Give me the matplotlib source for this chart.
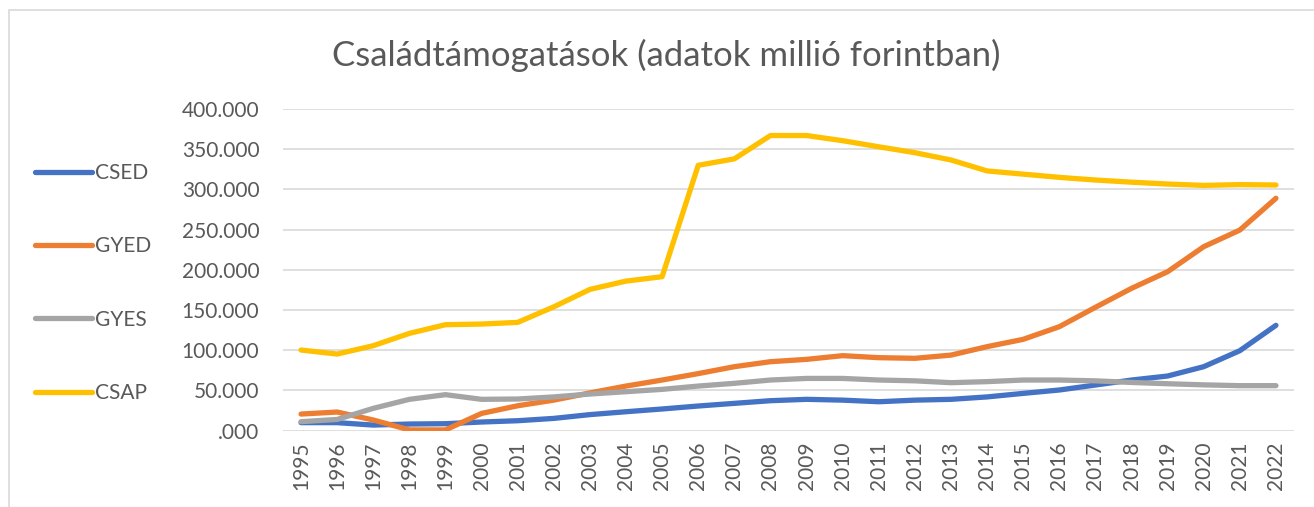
import matplotlib
matplotlib.use("Agg")
import matplotlib.pyplot as plt
from matplotlib.ticker import FuncFormatter, FixedLocator
from matplotlib.patches import Rectangle

years = list(range(1995, 2023))
csed = [10, 10, 7, 8.3, 8.7, 10.8, 12.4, 15.3, 20, 23.6, 27, 30.7, 34, 37.3,
        39, 38, 36, 38, 39, 42, 46.4, 50.6, 56.8, 63, 68, 79.6, 99.5, 131]
gyed = [20.7, 23.2, 13.3, 1, 1, 21.5, 31, 38, 47, 55.5, 63, 71, 79.6, 85.8,
        88.7, 93.3, 90.8, 90, 94, 104.5, 113.6, 129.3, 153.4, 177, 197.7, 228.8, 249.5, 289]
gyes = [11.2, 14, 27.8, 39, 44.8, 39, 39.4, 42, 45.6, 48.5, 51.4, 55.5, 58.9, 63,
        65, 65, 63, 62, 59.7, 61, 63, 63, 62, 60, 58.4, 57, 56, 56]
csap = [100.3, 95.3, 105.7, 121, 131.8, 132.6, 134.7, 154, 175.7, 186, 191.5, 330, 338, 367,
        367, 360.6, 353, 345.7, 336.6, 323, 319, 315, 311.7, 309, 306.7, 305, 306, 305.5]
series_names = ["CSED", "GYED", "GYES", "CSAP"]
series_vals = [csed, gyed, gyes, csap]
colors = ["#4472C4", "#ED7D31", "#A5A5A5", "#FFC000"]
title = "Családtámogatások (adatok millió forintban)"

plt.rcParams['font.family'] = ['Lato', 'DejaVu Sans']
text_color = "#595959"

fig = plt.figure(figsize=(13.14, 5.07), dpi=100)
fig.patches.append(Rectangle((9/1314, -0.1), 1.2, 1 - 10/507 + 0.1, transform=fig.transFigure,
                             facecolor='none', edgecolor='#D9D9D9', linewidth=1.2))
ax = fig.add_axes([283/1314, 1 - 430.7/507, (1294 - 283)/1314, (430.7 - 109)/507])

handles = []
for name, vals, c in zip(series_names, series_vals, colors):
    h, = ax.plot(years, [v * 1000 for v in vals], color=c, linewidth=3.8,
                 solid_capstyle='round', solid_joinstyle='round', label=name, zorder=3)
    handles.append(h)

ax.set_xlim(1994.5, 2022.5)
ax.set_ylim(0, 400000)
ax.yaxis.set_major_locator(FixedLocator(list(range(0, 400001, 50000))))
ax.yaxis.set_major_formatter(FuncFormatter(lambda v, p: ".000" if v == 0 else f"{int(round(v/1000))}.000"))
ax.set_xticks(years)
ax.set_xticklabels([str(y) for y in years], rotation=90)
ax.grid(axis='y', color='#D9D9D9', linewidth=1.2, zorder=0)
for s in ax.spines.values():
    s.set_visible(False)
ax.tick_params(axis='y', length=0, pad=17, labelsize=15, labelcolor=text_color)
ax.tick_params(axis='x', length=0, pad=8, labelsize=15, labelcolor=text_color)

fig.text(666/1314, 1 - 55/507, title, ha='center', va='center', fontsize=25, color=text_color)

leg = fig.legend(handles=handles, loc='upper left', bbox_to_anchor=(35/1314, 1 - 163/507),
                 frameon=False, fontsize=15, labelspacing=2.56, handlelength=2.75,
                 handletextpad=0.15, borderpad=0, borderaxespad=0)
for t in leg.get_texts():
    t.set_color(text_color)

fig.savefig("out.png", dpi=100)
